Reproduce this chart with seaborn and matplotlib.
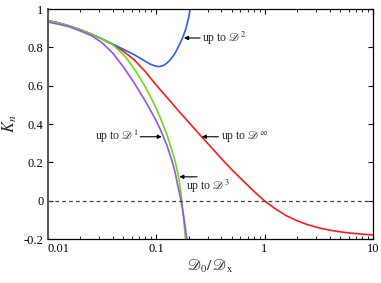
import io
import numpy as np
import matplotlib
matplotlib.use('Agg')
import matplotlib.pyplot as plt
import seaborn as sns
from matplotlib import mathtext
from matplotlib.ticker import FixedLocator, FixedFormatter, LogLocator, NullFormatter

# ── data ───────────────────────────────────────────────────────────
red_x = [0.01, 0.0126, 0.0158, 0.02, 0.0251, 0.0316, 0.0398, 0.0501, 0.0631,
         0.0794, 0.1, 0.126, 0.158, 0.2, 0.251, 0.316, 0.398, 0.501, 0.631,
         0.794, 1.0, 1.26, 1.58, 2.0, 2.51, 3.16, 3.98, 5.01, 6.31, 7.94, 10.0]
red_y = [0.94, 0.928, 0.912, 0.892, 0.87, 0.845, 0.815, 0.78, 0.735, 0.675,
         0.605, 0.54, 0.475, 0.41, 0.347, 0.285, 0.222, 0.162, 0.106, 0.051,
         0.0, -0.042, -0.077, -0.104, -0.125, -0.141, -0.153, -0.162, -0.169,
         -0.174, -0.178]

blue_x = [0.01, 0.0126, 0.0158, 0.02, 0.0251, 0.0316, 0.0398, 0.0501, 0.0631,
          0.0794, 0.0891, 0.1, 0.106, 0.112, 0.119, 0.126, 0.133, 0.141, 0.15,
          0.158, 0.168, 0.178, 0.188, 0.2, 0.2065, 0.214]
blue_y = [0.94, 0.928, 0.912, 0.892, 0.87, 0.845, 0.818, 0.79, 0.762, 0.728,
          0.712, 0.702, 0.70, 0.702, 0.708, 0.718, 0.731, 0.748, 0.77, 0.795,
          0.825, 0.858, 0.895, 0.955, 1.0, 1.045]

green_x = [0.01, 0.0126, 0.0158, 0.02, 0.0251, 0.0316, 0.0398, 0.0501, 0.0562,
           0.0631, 0.0708, 0.0794, 0.0891, 0.1, 0.112, 0.126, 0.141, 0.15,
           0.158, 0.164, 0.17, 0.1738, 0.1778, 0.182, 0.1862, 0.1884]
green_y = [0.94, 0.928, 0.912, 0.892, 0.87, 0.845, 0.815, 0.7625, 0.728,
           0.6875, 0.643, 0.595, 0.543, 0.485, 0.42, 0.345, 0.2575, 0.205,
           0.15, 0.10, 0.04, -0.01, -0.065, -0.125, -0.19, -0.225]

purple_x = [0.01, 0.0126, 0.0158, 0.02, 0.0251, 0.0316, 0.0398, 0.0501,
            0.0631, 0.0794, 0.1, 0.112, 0.126, 0.141, 0.15, 0.158, 0.164,
            0.17, 0.176, 0.182, 0.188, 0.195]
purple_y = [0.933, 0.921, 0.908, 0.886, 0.863, 0.826, 0.771, 0.698, 0.614,
            0.522, 0.42, 0.36, 0.29, 0.205, 0.148, 0.085, 0.043, 0.0, -0.048,
            -0.1, -0.157, -0.218]

x_ticks = [0.01, 0.1, 1, 10]
x_tick_labels = ['0.01', '0.1', '1', '10']
y_ticks = [-0.2, 0, 0.2, 0.4, 0.6, 0.8, 1.0]
y_tick_labels = ['-0.2', '0', '0.2', '0.4', '0.6', '0.8', '1']

# ── style ──────────────────────────────────────────────────────────
sns.set_theme(style='ticks')
plt.rcParams['font.family'] = ['Liberation Serif', 'DejaVu Serif']
plt.rcParams['mathtext.fontset'] = 'stix'

# script D if mathtext knows \mathscr, else calligraphic
D = r'\mathscr{D}'
try:
    mathtext.math_to_image('$' + D + '$', io.BytesIO(), format='png')
except Exception:
    D = r'\mathcal{D}'

fig = plt.figure(figsize=(3.81, 2.83), dpi=100)
ax = fig.add_axes([0.1247, 0.155, 0.8543, 0.813])

curves = [
    (red_x, red_y, '#ff1a1a'),
    (blue_x, blue_y, '#2a5ef2'),
    (green_x, green_y, '#66e010'),
    (purple_x, purple_y, '#9a50f0'),
]
for xs, ys, col in curves:
    sns.lineplot(x=xs, y=ys, color=col, linewidth=1.2, ax=ax)

ax.axhline(0, color='#444444', linestyle=(0, (3, 2.5)), linewidth=0.9)

ax.set_xscale('log')
ax.set_xlim(0.01, 10)
ax.set_ylim(-0.2, 1.0)

ax.xaxis.set_major_locator(FixedLocator(x_ticks))
ax.xaxis.set_major_formatter(FixedFormatter(x_tick_labels))
ax.xaxis.set_minor_locator(LogLocator(base=10, subs=np.arange(2, 10)))
ax.xaxis.set_minor_formatter(NullFormatter())
ax.set_yticks(y_ticks)
ax.set_yticklabels(y_tick_labels)

ax.tick_params(axis='both', which='both', direction='in', top=True,
               right=True, labelsize=9, pad=3, colors='black')
ax.tick_params(axis='both', which='major', length=3.5, width=0.8)
ax.tick_params(axis='x', which='minor', length=2, width=0.6)
for sp in ax.spines.values():
    sp.set_visible(True)
    sp.set_color('black')
    sp.set_linewidth(0.9)
ax.spines['left'].set_color('#555555')
ax.spines['left'].set_linewidth(1.4)

ax.set_xlabel('$' + D + r'_0/\,' + D + r'_\mathrm{x}$', fontsize=11,
              labelpad=2)
ax.set_ylabel(r'$K_n$', fontsize=12, labelpad=3)

# ── annotations ────────────────────────────────────────────────────
arrow = dict(arrowstyle='-|>', color='black', lw=0.8, mutation_scale=6,
             shrinkA=0, shrinkB=0)
fs = 8.5
ax.annotate('', xy=(0.181, 0.849), xytext=(0.255, 0.849), arrowprops=arrow)
ax.text(0.268, 0.849, r'up to $' + D + '^2$', fontsize=fs, va='center')

ax.annotate('', xy=(0.264, 0.334), xytext=(0.375, 0.334), arrowprops=arrow)
ax.text(0.395, 0.334, r'up to $' + D + r'^\infty$', fontsize=fs,
        va='center')

ax.annotate('', xy=(0.113, 0.334), xytext=(0.0715, 0.334), arrowprops=arrow)
ax.text(0.069, 0.334, r'up to $' + D + '^1$', fontsize=fs, va='center',
        ha='right')

ax.annotate('', xy=(0.164, 0.125), xytext=(0.239, 0.125), arrowprops=arrow)
ax.text(0.187, 0.075, r'up to $' + D + '^3$', fontsize=fs, va='center')

# first x label sits right of its tick, clear of "-0.2"
fig.canvas.draw()
ax.get_xticklabels()[0].set_horizontalalignment('left')

fig.savefig('out.png', dpi=100)
